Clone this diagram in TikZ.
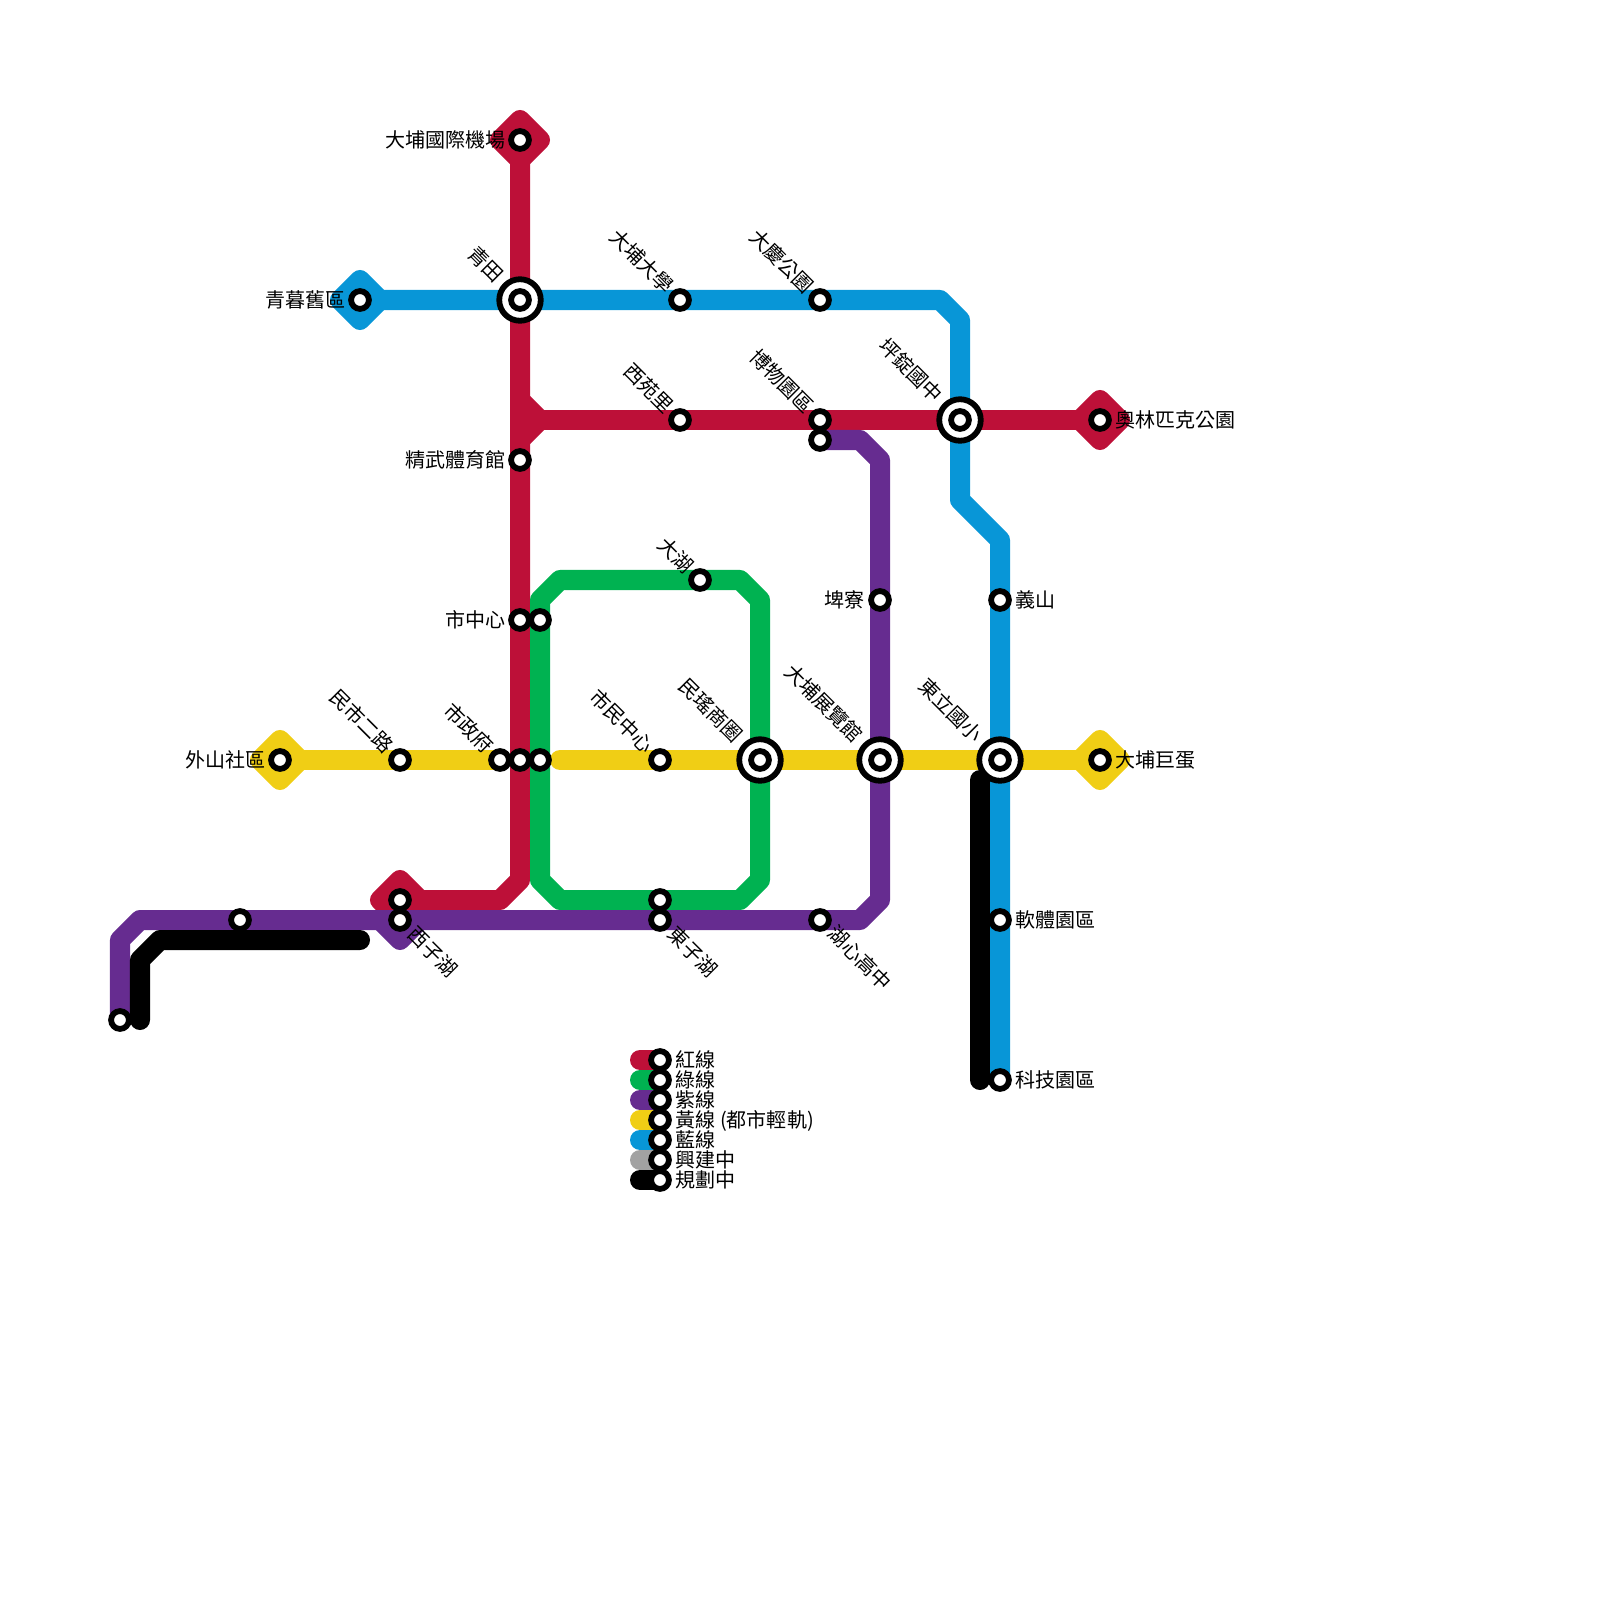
\documentclass[tikz,border=0pt]{standalone}
\usepackage{fontspec}
\setmainfont{Noto Sans CJK TC}
\usetikzlibrary{backgrounds,shapes.geometric}
\definecolor{lred}{HTML}{BD1038}
\definecolor{lgreen}{HTML}{00B251}
\definecolor{lpurple}{HTML}{662C90}
\definecolor{lyellow}{HTML}{F0CE15}
\definecolor{lblue}{HTML}{0896D7}
\definecolor{lgray}{HTML}{A2A2A2}
\tikzset{
  x=0.01cm,y=-0.01cm,
  stn/.style={circle,draw=black,fill=white,line width=0.058cm,minimum size=0.178cm,inner sep=0pt},
  hub/.style={circle,draw=black,fill=white,line width=0.058cm,minimum size=0.415cm,inner sep=0pt},
  track/.style={line width=0.2cm,line join=round,line cap=round},
  term/.style={diamond,aspect=1,draw=#1,fill=#1,line width=0.2cm,line join=round,minimum size=0.4cm,inner sep=0pt,outer sep=0pt},
  lab/.style={font=\fontsize{5.69pt}{5.69pt}\selectfont,text=black,inner sep=0pt,text height=0.8em,text depth=0.2em},
  flat/.style={lab,text height=0.725em,text depth=0.275em},
  lbl/.style={flat,anchor=east},
  rbl/.style={flat,anchor=west},
  nwl/.style={lab,anchor=east,rotate=-45},
  sel/.style={lab,anchor=west,rotate=-45},
}
\begin{document}
\begin{tikzpicture}
\useasboundingbox (0,0) rectangle (1600,1600);
% hubs
\foreach \n/\x/\y in {qingtian/520/300,pingding/960/420,minyao/760/760,expo/880/760,dongli/1000/760}{
  \node[hub] (\n) at (\x,\y) {};
  \node[stn] (\n-in) at (\x,\y) {};
}
% stations
\foreach \n/\x/\y in {airport/520/140,qingmu/360/300,univ/680/300,daqing/820/300,xiyuan/680/420,museum/820/420,museumb/820/440,
  jingwu/520/460,pikong/880/600,yishan/1000/600,centre/520/620,centreb/540/620,dahu/700/580,minshi/400/760,waishan/280/760,
  hallc/500/760,hall/520/760,hallb/540/760,civic/660/760,egg/1100/760,olympic/1100/420,xizi/400/900,xizib/400/920,
  west/240/920,far/120/1020,dongzi/660/900,dongzib/660/920,huxin/820/920,soft/1000/920,tech/1000/1080,
  lga/660/1060,lgb/660/1080,lgc/660/1100,lgd/660/1120,lge/660/1140,lgf/660/1160,lgg/660/1180}{
  \node[stn] (\n) at (\x,\y) {};
}
% free bends
\foreach \n/\x/\y in {ra/500/900,rb/520/880,rc/520/400,rd/540/420,re/520/440,
  ga/560/580,gb/740/580,gc/760/600,gd/760/880,ge/740/900,gf/560/900,gg/540/880,gh/540/600,
  pa/120/940,pb/140/920,pc/860/920,pd/880/900,pe/880/460,pf/860/440,
  ya/560/760,
  ba/940/300,bb/960/320,bc/960/500,bd/1000/540,
  ka/140/1020,kb/140/960,kc/160/940,kd/360/940,ke/980/780,kf/980/1080,
  la/640/1060,lb/640/1080,lc/640/1100,ld/640/1120,le/640/1140,lf/640/1160,lg/640/1180}{
  \coordinate (\n) at (\x,\y);
}
\begin{pgfonlayer}{background}
% purple terminal lies under the red one
\node[term=lpurple] (tpa) at (xizib.center) {};
% red
\node[term=lred] (tra) at (airport.center) {};
\node[term=lred] (trb) at (olympic.center) {};
\node[term=lred] (trc) at (xizi.center) {};
\draw[track,lred] (airport.center) -- (rb) -- (ra) -- (xizi.center);
\draw[track,lred] (rc) -- (rd) -- (re);
\draw[track,lred] (rd) -- (olympic.center);
\draw[track,lred] (la) -- (lga.center);
% green
\draw[track,lgreen] (ga) -- (gb) -- (gc) -- (gd) -- (ge) -- (gf) -- (gg) -- (gh) -- cycle;
\draw[track,lgreen] (lb) -- (lgb.center);
% purple
\draw[track,lpurple] (far.center) -- (pa) -- (pb) -- (pc) -- (pd) -- (pe) -- (pf) -- (museumb.center);
\draw[track,lpurple] (lc) -- (lgc.center);
% yellow
\node[term=lyellow] (tya) at (waishan.center) {};
\node[term=lyellow] (tyb) at (egg.center) {};
\draw[track,lyellow] (waishan.center) -- (hallc.center);
\draw[track,lyellow] (ya) -- (egg.center);
\draw[track,lyellow] (ld) -- (lgd.center);
% blue
\node[term=lblue] (tba) at (qingmu.center) {};
\draw[track,lblue] (qingmu.center) -- (ba) -- (bb) -- (bc) -- (bd) -- (tech.center);
\draw[track,lblue] (le) -- (lge.center);
% gray
\draw[track,lgray] (lf) -- (lgf.center);
% black
\draw[track,black] (ka) -- (kb) -- (kc) -- (kd);
\draw[track,black] (ke) -- (kf);
\draw[track,black] (lg) -- (lgg.center);
\end{pgfonlayer}
% labels
\node[lbl] (t1) at (506,140) {大埔國際機場};
\node[lbl] (t2) at (346,300) {青暮舊區};
\node[lbl] (t3) at (506,460) {精武體育館};
\node[lbl] (t4) at (506,620) {市中心};
\node[lbl] (t5) at (266,760) {外山社區};
\node[lbl] (t6) at (865,600) {埤寮};
\node[rbl] (t7) at (1115,420) {奧林匹克公園};
\node[rbl] (t8) at (1015,600) {義山};
\node[rbl] (t9) at (1115,760) {大埔巨蛋};
\node[rbl] (t10) at (1015,920) {軟體園區};
\node[rbl] (t11) at (1015,1080) {科技園區};
\node[nwl] (t13) at (503,277) {青田};
\node[nwl] (t14) at (673,288) {大埔大學};
\node[nwl] (t15) at (813,288) {大慶公園};
\node[nwl] (t16) at (673,408) {西苑里};
\node[nwl] (t17) at (813,408) {博物園區};
\node[nwl] (t18) at (942,397) {坪錠國中};
\node[nwl] (t19) at (693,568) {大湖};
\node[nwl] (t20) at (393,748) {民市二路};
\node[nwl] (t21) at (493,748) {市政府};
\node[nwl] (t22) at (653,748) {市民中心};
\node[nwl] (t23) at (742,737) {民瑤商圈};
\node[nwl] (t24) at (862,737) {大埔展覽館};
\node[nwl] (t25) at (982,737) {東立國小};
\node[sel] (t26) at (413,928) {西子湖};
\node[sel] (t27) at (673,928) {東子湖};
\node[sel] (t28) at (833,927) {湖心高中};
\node[rbl] (l1) at (675,1060) {紅線};
\node[rbl] (l2) at (675,1080) {綠線};
\node[rbl] (l3) at (675,1100) {紫線};
\node[rbl] (l4) at (675,1120) {黃線 (都市輕軌)};
\node[rbl] (l5) at (675,1140) {藍線};
\node[rbl] (l6) at (675,1160) {興建中};
\node[rbl] (l7) at (675,1180) {規劃中};
\end{tikzpicture}
\end{document}
